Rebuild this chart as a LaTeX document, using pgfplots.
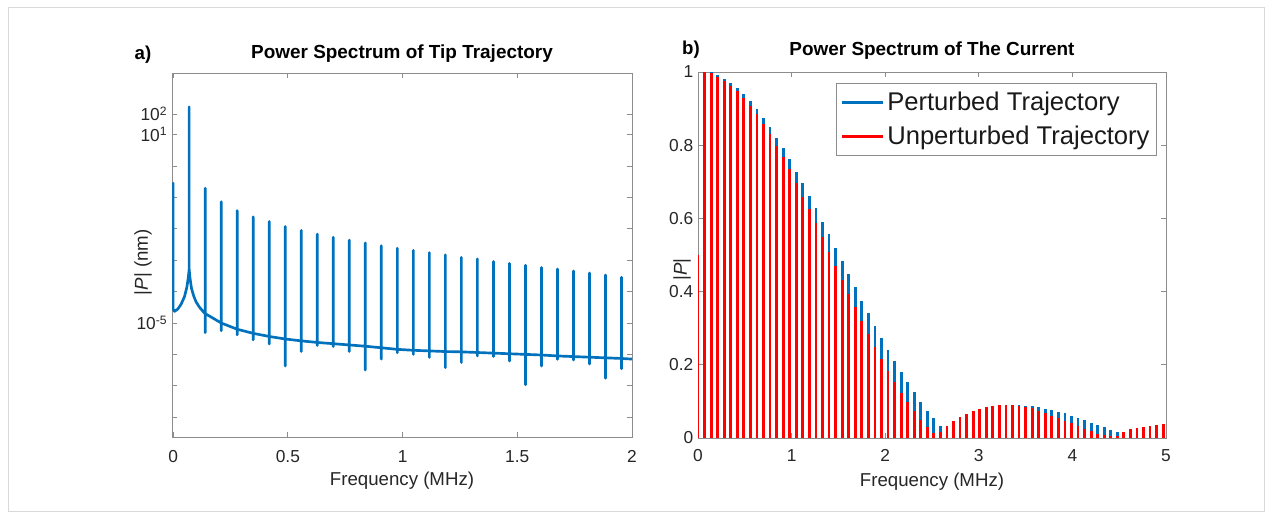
\documentclass[border=0pt]{standalone}
\usepackage{pgfplots}
\pgfplotsset{compat=1.18}
\usepackage{pgfplotstable}
\usepackage{fontspec}
\setmainfont{Liberation Sans}
\definecolor{mblue}{rgb}{0,0.447,0.741}
\definecolor{axgray}{gray}{0.55}

% left panel: frequency (MHz) and log10 |P|
\pgfplotstableread{
f ly
0 -0.55
0 -4.56
0.006 -4.63
0.02 -4.56
0.035 -4.40
0.05 -4.15
0.06 -3.85
0.066 -3.55
0.0698 -3.29
0.0698 1.88
0.0698 -3.29
0.074 -3.60
0.08 -3.90
0.09 -4.15
0.10 -4.33
0.115 -4.50
0.13 -4.63
0.1396 -4.70
0.1396 -0.71
0.1396 -5.31
0.1396 -4.70
0.2094 -5.00
0.2094 -1.14
0.2094 -5.25
0.2094 -5.00
0.2792 -5.20
0.2792 -1.42
0.2792 -5.38
0.2792 -5.20
0.3490 -5.33
0.3490 -1.62
0.3490 -5.54
0.3490 -5.33
0.4188 -5.43
0.4188 -1.77
0.4188 -5.67
0.4188 -5.43
0.4886 -5.51
0.4886 -1.93
0.4886 -6.37
0.4886 -5.51
0.5584 -5.57
0.5584 -2.05
0.5584 -5.91
0.5584 -5.57
0.6282 -5.62
0.6282 -2.17
0.6282 -5.72
0.6282 -5.62
0.6980 -5.66
0.6980 -2.27
0.6980 -5.75
0.6980 -5.66
0.7678 -5.70
0.7678 -2.36
0.7678 -5.91
0.7678 -5.70
0.8376 -5.74
0.8376 -2.45
0.8376 -6.50
0.8376 -5.74
0.9074 -5.79
0.9074 -2.54
0.9074 -6.15
0.9074 -5.79
0.9772 -5.84
0.9772 -2.62
0.9772 -5.95
0.9772 -5.84
1.0470 -5.87
1.0470 -2.69
1.0470 -6.00
1.0470 -5.87
1.1168 -5.89
1.1168 -2.76
1.1168 -6.10
1.1168 -5.89
1.1866 -5.91
1.1866 -2.83
1.1866 -6.42
1.1866 -5.91
1.2564 -5.92
1.2564 -2.91
1.2564 -6.26
1.2564 -5.92
1.3262 -5.94
1.3262 -2.96
1.3262 -6.05
1.3262 -5.94
1.3960 -5.96
1.3960 -3.04
1.3960 -6.07
1.3960 -5.96
1.4658 -5.98
1.4658 -3.10
1.4658 -6.21
1.4658 -5.98
1.5356 -6.00
1.5356 -3.16
1.5356 -6.97
1.5356 -6.00
1.6054 -6.02
1.6054 -3.23
1.6054 -6.37
1.6054 -6.02
1.6752 -6.05
1.6752 -3.28
1.6752 -6.16
1.6752 -6.05
1.7450 -6.07
1.7450 -3.34
1.7450 -6.18
1.7450 -6.07
1.8148 -6.09
1.8148 -3.41
1.8148 -6.31
1.8148 -6.09
1.8846 -6.11
1.8846 -3.47
1.8846 -6.76
1.8846 -6.11
1.9544 -6.13
1.9544 -3.54
1.9544 -6.46
1.9544 -6.13
2.0 -6.15
}\lefttab

% right panel: frequency (MHz), perturbed, unperturbed
\pgfplotstableread{
f blue red
0.00 0.500 0.500
0.07 1.000 1.000
0.14 1.000 0.998
0.21 0.992 0.987
0.28 0.981 0.976
0.35 0.969 0.963
0.42 0.955 0.948
0.49 0.939 0.928
0.56 0.921 0.908
0.63 0.899 0.884
0.70 0.875 0.859
0.77 0.850 0.830
0.84 0.821 0.799
0.91 0.791 0.767
0.98 0.761 0.734
1.05 0.728 0.698
1.12 0.696 0.659
1.19 0.661 0.625
1.26 0.628 0.587
1.33 0.591 0.548
1.40 0.556 0.509
1.47 0.520 0.471
1.54 0.484 0.432
1.61 0.447 0.394
1.68 0.412 0.357
1.75 0.375 0.319
1.82 0.341 0.283
1.89 0.306 0.248
1.96 0.272 0.215
2.03 0.240 0.184
2.10 0.210 0.154
2.17 0.181 0.124
2.24 0.154 0.099
2.31 0.125 0.075
2.38 0.099 0.049
2.45 0.075 0.031
2.52 0.054 0.015
2.59 0.034 0.016
2.66 0.015 0.033
2.73 0.010 0.046
2.80 0.020 0.057
2.87 0.030 0.0665
2.94 0.040 0.075
3.01 0.050 0.080
3.08 0.060 0.084
3.15 0.068 0.087
3.22 0.075 0.089
3.29 0.081 0.090
3.36 0.086 0.089
3.43 0.0893 0.088
3.50 0.0883 0.085
3.57 0.0865 0.081
3.64 0.084 0.074
3.71 0.080 0.067
3.78 0.077 0.061
3.85 0.072 0.054
3.92 0.0674 0.046
3.99 0.061 0.040
4.06 0.0556 0.033
4.13 0.0492 0.025
4.20 0.0419 0.019
4.27 0.0355 0.012
4.34 0.0292 0.008
4.41 0.0228 0.006
4.48 0.0164 0.005
4.55 0.008 0.017
4.62 0.004 0.024
4.69 0.003 0.026
4.76 0.003 0.030
4.83 0.003 0.033
4.90 0.003 0.0355
4.97 0.003 0.037
}\righttab

\pgfplotsset{
  mstyle/.style={
    scale only axis,
    axis line style={axgray, line width=0.6pt},
    tick style={axgray, line width=0.6pt},
    tick align=inside,
    major tick length=3.75pt,
    /pgf/number format/assume math mode=true,
    every tick label/.append style={font=\fontsize{13}{15}\selectfont, text=black!85},
    title style={font=\fontsize{14.2}{16}\selectfont\bfseries, anchor=base},
    label style={font=\fontsize{14}{16}\selectfont, text=black!85},
  }
}

\begin{document}
\begin{tikzpicture}
\path[use as bounding box] (0,0) rectangle (954pt,390pt);
\draw[black!15, line width=0.75pt] (6pt,6pt) rectangle (948pt,384pt);

\begin{axis}[mstyle,
  at={(129pt,62.25pt)}, anchor=south west,
  width=345pt, height=273pt,
  xmin=-0.005, xmax=2,
  ymode=log, ymin=2.34e-9, ymax=912,
  xtick={0,0.5,1,1.5,2},
  xticklabels={0,0.5,1,1.5,2},
  xticklabel style={anchor=base, yshift=-19pt},
  ytick={1e-8,1e-7,1e-6,1e-5,1e-4,1e-3,1e-2,1e-1,1,10,45.3},
  yticklabels={{},{},{},10\textsuperscript{-5},{},{},{},{},{},10\textsuperscript{1},10\textsuperscript{2}},
  yminorticks=false,
  title={Power Spectrum of Tip Trajectory},
  title style={at={(0.5,1.017)}},
  xlabel={Frequency (MHz)},
  xlabel style={at={(axis description cs:0.5,-0.1346)}, anchor=base},
  ylabel={|\textit{P}| (nm)},
  ylabel style={at={(axis description cs:-0.063,0.48)}, anchor=center, rotate=0},
]
\addplot[mblue, line width=2pt, line join=round, line cap=round] table[x=f, y expr={10^(\thisrow{ly})}] {\lefttab};
\end{axis}

\begin{axis}[mstyle,
  at={(523.5pt,61.5pt)}, anchor=south west,
  width=351pt, height=274.5pt,
  xmin=0, xmax=5, ymin=0, ymax=1,
  xtick={0,1,2,3,4,5},
  ytick={0,0.2,0.4,0.6,0.8,1},
  xticklabel style={anchor=base, yshift=-18pt},
  title={Power Spectrum of The Current},
  title style={at={(0.5,1.022)}},
  xlabel={Frequency (MHz)},
  xlabel style={at={(axis description cs:0.5,-0.133)}, anchor=base},
  ylabel={|\textit{P}|},
  ylabel style={at={(axis description cs:-0.034,0.46)}, anchor=center},
  legend image code/.code={\draw[#1] (0pt,0pt) -- (31pt,0pt);},
  legend style={at={(0.98,0.97)}, anchor=north east, draw=black!45, line width=0.6pt,
    fill=white, font=\fontsize{19.2}{22}\selectfont, text=black!90,
    inner xsep=3pt, inner ysep=4.5pt, row sep=6pt},
  legend cell align=left,
]
\addplot[ycomb, mblue, line width=2.1pt, forget plot] table[x=f, y=blue] {\righttab};
\addplot[ycomb, red, line width=2.1pt, forget plot] table[x=f, y=red] {\righttab};
\addlegendimage{mblue, line width=2pt}
\addlegendentry{Perturbed Trajectory}
\addlegendimage{red, line width=2pt}
\addlegendentry{Unperturbed Trajectory}
\end{axis}

\node[font=\fontsize{14}{16}\selectfont\bfseries] at (107.25pt,348.75pt) {a)};
\node[font=\fontsize{14}{16}\selectfont\bfseries] at (518.25pt,352.5pt) {b)};
\end{tikzpicture}
\end{document}
